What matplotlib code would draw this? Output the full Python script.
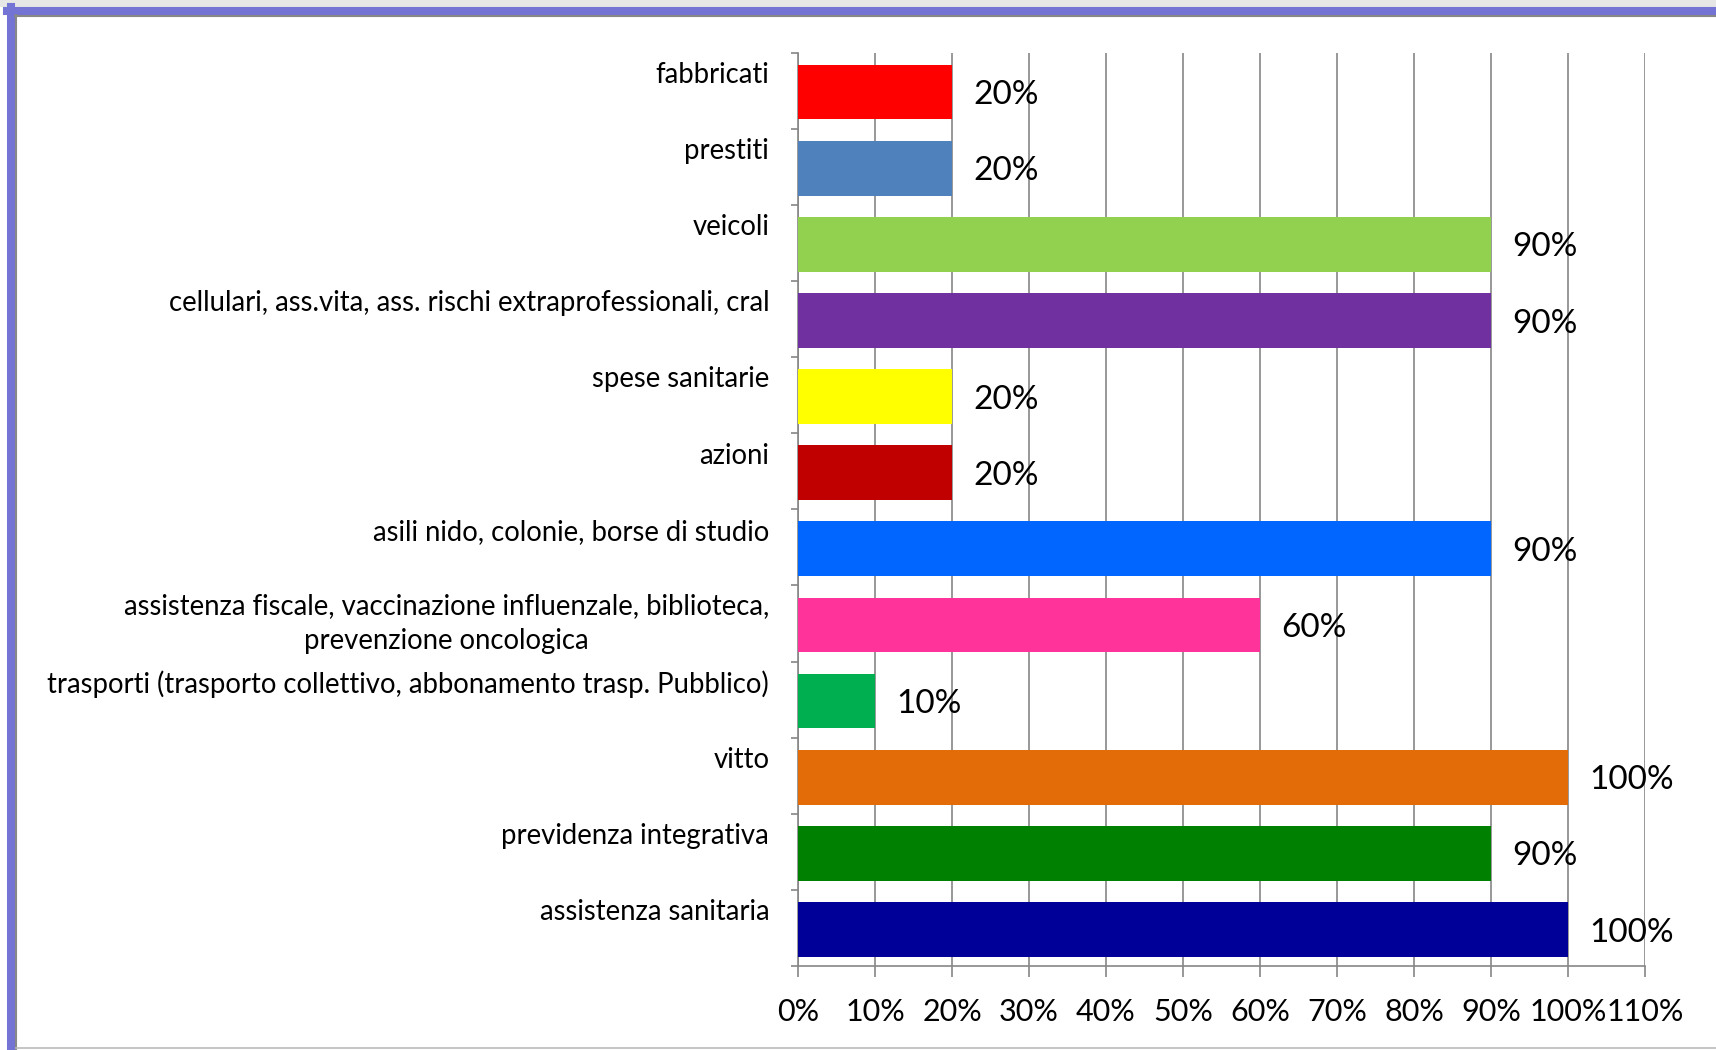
import matplotlib.pyplot as plt
from matplotlib.lines import Line2D
from matplotlib.patches import Rectangle

categories = [
    'fabbricati',
    'prestiti',
    'veicoli',
    'cellulari, ass.vita, ass. rischi extraprofessionali, cral',
    'spese sanitarie',
    'azioni',
    'asili nido, colonie, borse di studio',
    'assistenza fiscale, vaccinazione influenzale, biblioteca,\nprevenzione oncologica',
    'trasporti (trasporto collettivo, abbonamento trasp. Pubblico)',
    'vitto',
    'previdenza integrativa',
    'assistenza sanitaria',
]
values = [0.2, 0.2, 0.9, 0.9, 0.2, 0.2, 0.9, 0.6, 0.1, 1.0, 0.9, 1.0]
colors = ['#FF0000', '#4F81BD', '#92D050', '#7030A0', '#FFFF00', '#C00000',
          '#0066FF', '#FF3399', '#00B050', '#E36C09', '#008000', '#000099']
xticks = [i / 10 for i in range(12)]
xtick_labels = ['%d%%' % (i * 10) for i in range(12)]

W, H = 1716, 1050
plt.rcParams['font.family'] = ['Lato', 'DejaVu Sans']

fig = plt.figure(figsize=(W / 100, H / 100), dpi=100)
ax = fig.add_axes([798 / W, 1 - 966 / H, (1645 - 798) / W, (966 - 52.5) / H])

pos = list(range(len(categories)))
ax.barh([p + 0.02 for p in pos], values, height=0.72, color=colors, zorder=3)
ax.set_ylim(len(categories) - 0.5, -0.5)
ax.set_xlim(0, 1.1)

grid_c = '#868686'
ax.set_xticks(xticks)
ax.set_xticklabels(xtick_labels, fontsize=22)
ax.tick_params(axis='x', length=8, width=1.2, color=grid_c, pad=15)
ax.xaxis.grid(True, color=grid_c, linewidth=1.2, zorder=0)
ax.set_yticks([i - 0.5 for i in range(len(categories) + 1)])
ax.set_yticklabels([])
ax.tick_params(axis='y', length=5, width=1.2, color=grid_c)
for s in ['top', 'right']:
    ax.spines[s].set_visible(False)
for s in ['left', 'bottom']:
    ax.spines[s].set_color(grid_c)
    ax.spines[s].set_linewidth(1.2)

ytr = ax.get_yaxis_transform()
for i, (cat, v) in enumerate(zip(categories, values)):
    dy = 0 if '\n' in cat else -0.205
    ax.text(-0.034, i + dy, cat, transform=ytr, ha='right', va='center',
            fontsize=19.8, multialignment='center', linespacing=1.4)
    ax.text(v + 0.028, i + 0.06, '%d%%' % round(v * 100), ha='left',
            va='center', fontsize=24, zorder=4)

# frame around the chart
fig.add_artist(Rectangle((0, 1 - 7 / H), 1, 7 / H, transform=fig.transFigure,
                         color='#E6E6E6', lw=0))
fig.add_artist(Line2D([11 / W, 11 / W], [0, 1 - 7 / H], transform=fig.transFigure,
                      color='#7474D4', lw=5.8))
fig.add_artist(Line2D([7 / W, 1], [1 - 10.5 / H, 1 - 10.5 / H], transform=fig.transFigure,
                      color='#7474D4', lw=5.8))
fig.add_artist(Line2D([16 / W, 16 / W], [0, 1 - 15 / H], transform=fig.transFigure,
                      color='#888888', lw=1.5))
fig.add_artist(Line2D([15 / W, 1], [1 - 15.5 / H, 1 - 15.5 / H], transform=fig.transFigure,
                      color='#888888', lw=1.5))
fig.add_artist(Line2D([16 / W, 1], [2.5 / H, 2.5 / H], transform=fig.transFigure,
                      color='#BBBBBB', lw=1.2))

fig.savefig('out.png', dpi=100)
